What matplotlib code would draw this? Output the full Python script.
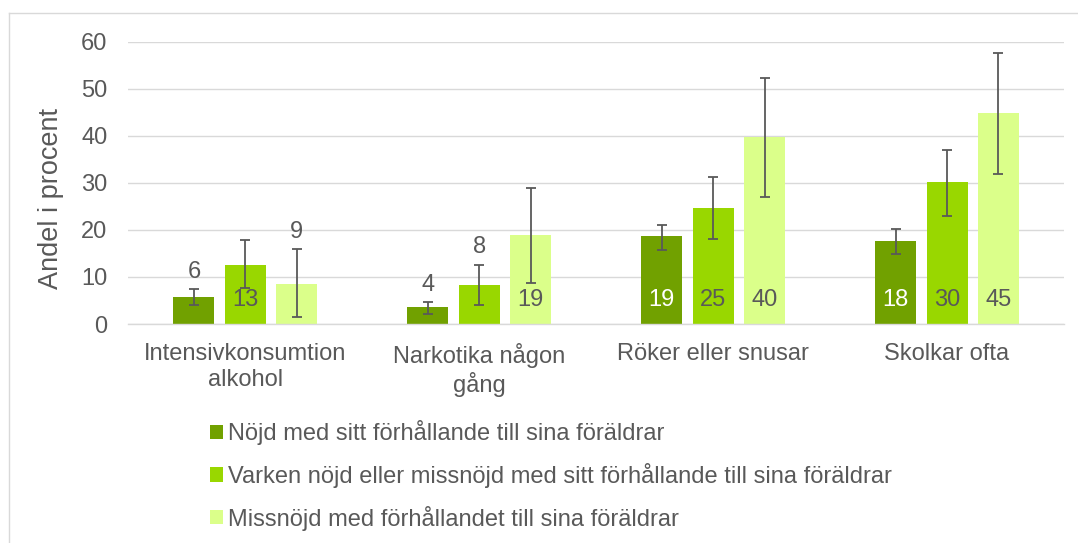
import matplotlib
matplotlib.use("Agg")
import matplotlib.pyplot as plt
from matplotlib.lines import Line2D
import numpy as np

# --- data -------------------------------------------------------------
categories = ["Intensivkonsumtion\nalkohol", "Narkotika någon\ngång",
              "Röker eller snusar", "Skolkar ofta"]
series_names = ["Nöjd med sitt förhållande till sina föräldrar",
                "Varken nöjd eller missnöjd med sitt förhållande till sina föräldrar",
                "Missnöjd med förhållandet till sina föräldrar"]
nojd = [5.8, 3.6, 18.6, 17.6]
varken = [12.6, 8.3, 24.7, 30.1]
missnojd = [8.6, 18.9, 39.7, 44.8]
# confidence intervals (lower, upper)
nojd_ci_low = [4.1, 2.1, 15.7, 14.8]
nojd_ci_high = [7.4, 4.7, 21.1, 20.1]
varken_ci_low = [7.6, 4.0, 18.0, 23.0]
varken_ci_high = [17.8, 12.6, 31.2, 37.0]
missnojd_ci_low = [1.4, 8.8, 27.0, 31.9]
missnojd_ci_high = [15.9, 29.0, 52.2, 57.6]
y_ticks = [0, 10, 20, 30, 40, 50, 60]
y_label = "Andel i procent"

# --- styling ----------------------------------------------------------
colors = ["#71A100", "#99D700", "#DBFF8A"]
text_gray = "#595959"
grid_gray = "#D9D9D9"
font = "Liberation Sans"
fs = 17
# (category, series) pairs whose value label sits above the error bar
labels_above = {(0, 0), (0, 2), (1, 0), (1, 1)}

plt.rcParams["font.family"] = [font, "DejaVu Sans"]

fig = plt.figure(figsize=(10.78, 5.43), dpi=100)
ax = fig.add_axes([0.1191, 0.4033, 0.8679, 0.5199])

values = [nojd, varken, missnojd]
lows = [nojd_ci_low, varken_ci_low, missnojd_ci_low]
highs = [nojd_ci_high, varken_ci_high, missnojd_ci_high]

x = np.arange(len(categories))
step = 0.22
width = 0.175

for s, (vals, lo, hi) in enumerate(zip(values, lows, highs)):
    xs = x + (s - 1) * step
    vals = np.array(vals)
    yerr = np.vstack([vals - np.array(lo), np.array(hi) - vals])
    ax.bar(xs, vals, width=width, color=colors[s], label=series_names[s], zorder=2)
    ax.errorbar(xs, vals, yerr=yerr, fmt="none", ecolor=text_gray,
                elinewidth=1.3, capsize=3.8, capthick=1.3, zorder=3)
    for c, (xi, v) in enumerate(zip(xs, vals)):
        txt = f"{v:.0f}"
        if (c, s) in labels_above:
            ax.annotate(txt, xy=(xi, hi[c]), xytext=(0, 12.5),
                        textcoords="offset points", ha="center", va="center",
                        fontsize=fs, color=text_gray, zorder=4)
        else:
            ax.annotate(txt, xy=(xi, 0), xytext=(0, 17.5),
                        textcoords="offset points", ha="center", va="center",
                        fontsize=fs,
                        color="white" if s == 0 else text_gray, zorder=4)

ax.set_xlim(-0.5, len(categories) - 0.5)
ax.set_ylim(0, 60)
ax.set_yticks(y_ticks)
ax.set_xticks(x)
ax.set_xticklabels(categories, fontsize=fs, color=text_gray, linespacing=1.2)
ax.tick_params(axis="y", length=0, pad=15.2, labelsize=fs, labelcolor=text_gray)
ax.tick_params(axis="x", length=0, pad=14.0)
ax.yaxis.grid(True, color=grid_gray, linewidth=1.0, zorder=0)
ax.set_axisbelow(True)
for side in ["top", "right", "left"]:
    ax.spines[side].set_visible(False)
ax.spines["bottom"].set_color(grid_gray)
ax.spines["bottom"].set_linewidth(1.0)

ax.set_ylabel(y_label, fontsize=19.5, color=text_gray)
ax.yaxis.label.set_va("center")
ax.yaxis.set_label_coords(-0.083, 0.446)

ax.legend(loc="upper left", bbox_to_anchor=(210 / 1078, 0.2262),
          bbox_transform=fig.transFigure, frameon=False, fontsize=fs,
          labelcolor=text_gray, handlelength=0.55, handleheight=0.55,
          handletextpad=0.21, labelspacing=0.75, borderpad=0,
          borderaxespad=0)

# chart frame (top and left edges)
fig.add_artist(Line2D([9 / 1078, 1.0], [1 - 12.5 / 543, 1 - 12.5 / 543],
                      transform=fig.transFigure, color=grid_gray, lw=1.0))
fig.add_artist(Line2D([9 / 1078, 9 / 1078], [0.0, 1 - 12.5 / 543],
                      transform=fig.transFigure, color=grid_gray, lw=1.0))

fig.savefig("out.png", dpi=100, facecolor="white")
